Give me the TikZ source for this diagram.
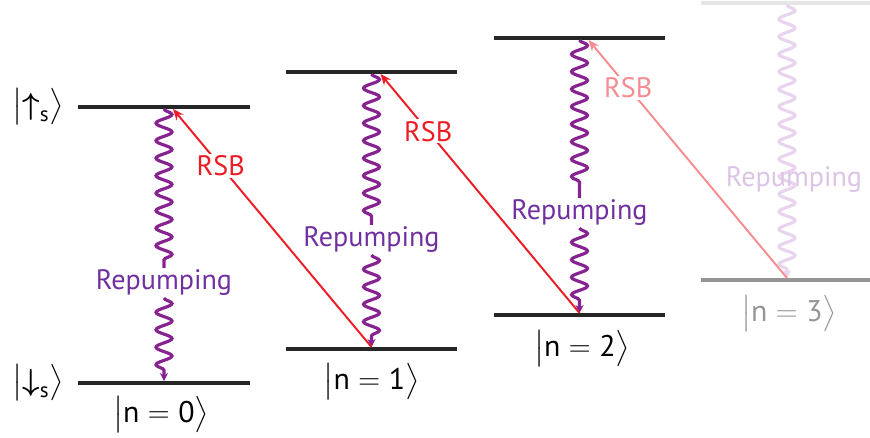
\documentclass[tikz,border=0pt]{standalone}
\usepackage{amsmath}
\usepackage{fontspec}
\setmainfont{PT Sans}
\setsansfont{PT Sans}
\usetikzlibrary{arrows.meta,decorations.pathmorphing,positioning,calc}
\definecolor{rp}{RGB}{135,35,145}
\definecolor{rptxt}{RGB}{112,48,160}
\definecolor{rsb}{RGB}{237,28,36}
\definecolor{rsbfade}{RGB}{245,140,145}
\definecolor{rpfade}{RGB}{232,212,238}
\definecolor{lvlfade}{RGB}{150,150,150}
\begin{document}
\begin{tikzpicture}[x=0.02cm,y=-0.02cm,
    lvl/.style={rectangle,fill=black!85,minimum width=3.44cm,minimum height=0.065cm,inner sep=0pt},
    wav/.style={rp,line width=1.8pt,decorate,decoration={snake,segment length=0.35cm,amplitude=0.16cm,post length=1.5mm}},
    arr/.style={-{Stealth[length=2.2mm,width=1.8mm]},line width=1.1pt},
    rplab/.style={font=\fontsize{16}{19}\selectfont,inner sep=1pt,rptxt},
    rsblab/.style={font=\fontsize{16}{19}\selectfont,inner sep=1pt,fill=white,sloped=false},
    ket/.style={font=\fontsize{17}{20}\selectfont,inner sep=0pt},
]
\useasboundingbox (0,0) rectangle (870,438);

% levels
\node[lvl] (e0) at (164,107) {};
\node[lvl] (g0) at (164,383) {};
\node[lvl] (e1) at (371.5,72) {};
\node[lvl] (g1) at (371.5,349) {};
\node[lvl] (e2) at (579.5,38) {};
\node[lvl] (g2) at (579.5,315) {};
\node[lvl,fill=black!10] (e3) at (787,3) {};
\node[lvl,fill=lvlfade] (g3) at (787,280) {};

% state labels
\node[ket] (up) at (38,107) {$\bigl\lvert\boldsymbol{\uparrow}_{\mathsf{s}}\bigr\rangle$};
\node[ket] (dn) at (38,383) {$\bigl\lvert\boldsymbol{\downarrow}_{\mathsf{s}}\bigr\rangle$};
\node[ket] (k0) at (161,415) {$\bigl\lvert\mathsf{n}=\mathsf{0}\bigr\rangle$};
\node[ket] (k1) at (371.5,382) {$\bigl\lvert\mathsf{n}=\mathsf{1}\bigr\rangle$};
\node[ket] (k2) at (582,349) {$\bigl\lvert\mathsf{n}=\mathsf{2}\bigr\rangle$};
\node[ket,lvlfade] (k3) at (789,314) {$\bigl\lvert\mathsf{n}=\mathsf{3}\bigr\rangle$};

% repumping
\node[rplab] (r0) at (164,283) {Repumping};
\node[rplab] (r1) at (371.5,240) {Repumping};
\node[rplab] (r2) at (579.5,213) {Repumping};
\draw[wav] (e0.south) -- (r0.north);
\draw[wav,-{Stealth[length=1.6mm,width=1.6mm]}] (r0.south) -- (g0.north);
\draw[wav] (e1.south) -- (r1.north);
\draw[wav,-{Stealth[length=1.6mm,width=1.6mm]}] (r1.south) -- (g1.north);
\draw[wav] (e2.south) -- (r2.north);
\draw[wav,-{Stealth[length=1.6mm,width=1.6mm]}] (r2.south) -- (g2.north);
\draw[wav,rpfade,-{Stealth[length=1.6mm,width=1.6mm]}] (e3.south) -- (g3.north);
\node[rplab,rpfade!90!rptxt] (r3) at (794,180) {Repumping};

% red sideband
\draw[arr,rsb] (g1.north) -- node[rsblab,pos=0.76,text=rsb] (s0) {RSB} ($(e0.south)+(9,0)$);
\draw[arr,rsb] (g2.north) -- node[rsblab,pos=0.76,text=rsb] (s1) {RSB} ($(e1.south)+(9,0)$);
\draw[arr,rsbfade] (g3.north) -- node[rsblab,pos=0.8,text=rsbfade] (s2) {RSB} ($(e2.south)+(9,0)$);
\end{tikzpicture}
\end{document}
